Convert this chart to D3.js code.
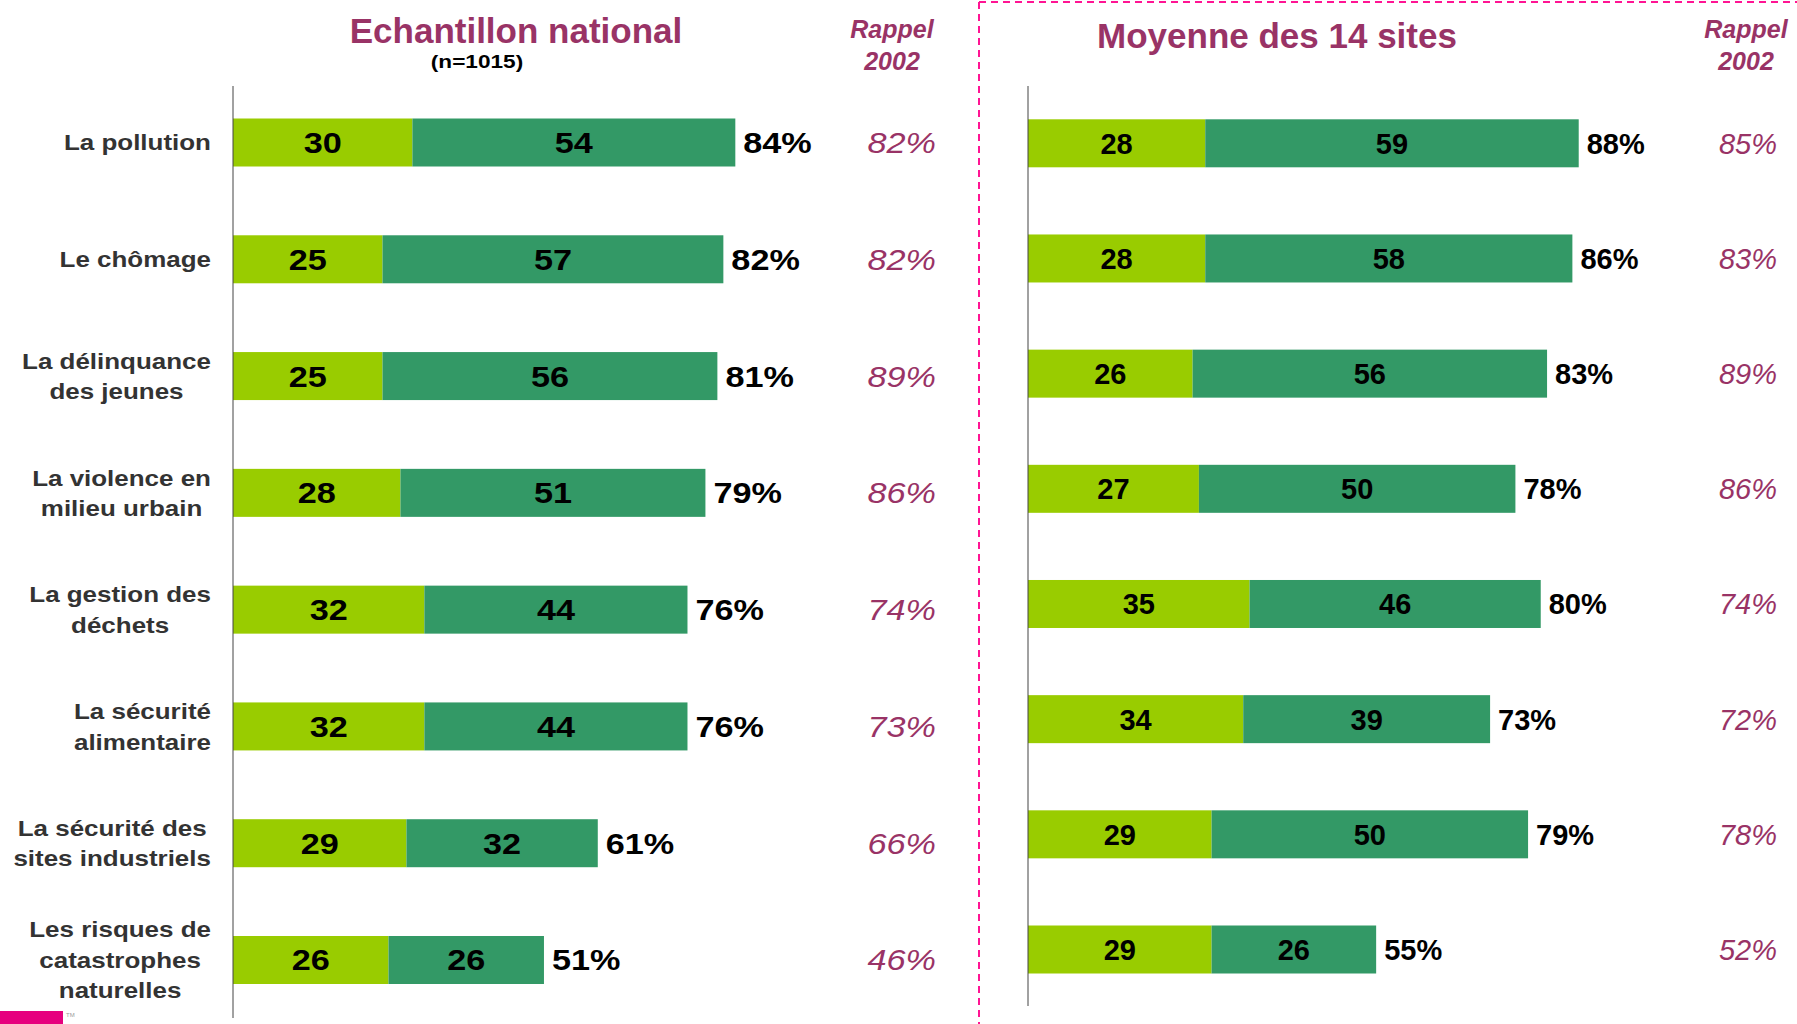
<!DOCTYPE html>
<html>
<head>
<meta charset="utf-8">
<script src="https://cdn.jsdelivr.net/npm/d3@7"></script>
<style>
  body { margin: 0; background: #fff; }
  text { font-family: "Liberation Sans", Arial, sans-serif; }
</style>
</head>
<body>
<div id="chart"></div>
<script>
var width = 1797,
    height = 1024

// data
var categories = ["La pollution", "Le chômage", "La délinquance\ndes jeunes",
  "La violence en\nmilieu urbain", "La gestion des\ndéchets", "La sécurité\nalimentaire",
  "La sécurité des\nsites industriels", "Les risques de\ncatastrophes\nnaturelles"]

var nationalLight = [30, 25, 25, 28, 32, 32, 29, 26]
var nationalDark = [54, 57, 56, 51, 44, 44, 32, 26]
var nationalTotal = [84, 82, 81, 79, 76, 76, 61, 51]
var nationalRappel = [82, 82, 89, 86, 74, 73, 66, 46]

var sitesLight = [28, 28, 26, 27, 35, 34, 29, 29]
var sitesDark = [59, 58, 56, 50, 46, 39, 50, 26]
var sitesTotal = [88, 86, 83, 78, 80, 73, 79, 55]
var sitesRappel = [85, 83, 89, 86, 74, 72, 78, 52]

var lightGreen = "#99cc00",
    darkGreen = "#339966",
    plum = "#993366"

var svg = d3.select("#chart").append("svg")
    .attr("width", width)
    .attr("height", height)

var barHeight = 48

// panel settings: left panel text is stretched horizontally like the slide
var panels = [
  {
    light: nationalLight, dark: nationalDark, total: nationalTotal, rappel: nationalRappel,
    x: d3.scaleLinear().domain([0, 100]).range([233, 831]),
    y: d3.scalePoint().domain(categories).range([142.5, 960]),
    axisBottom: 1018, rappelRight: 936, rappelCenter: 892, sx: 1.18,
    title: "Echantillon national", titleX: 516, titleY: 43
  },
  {
    light: sitesLight, dark: sitesDark, total: sitesTotal, rappel: sitesRappel,
    x: d3.scaleLinear().domain([0, 100]).range([1028, 1661]),
    y: d3.scalePoint().domain(categories).range([143.3, 949.5]),
    axisBottom: 1006, rappelRight: 1777, rappelCenter: 1746, sx: 1.0,
    title: "Moyenne des 14 sites", titleX: 1277, titleY: 47.5
  }
]

function place(x, y, sx) {
  return "translate(" + x + "," + y + ") scale(" + sx + ",1)"
}

panels.forEach(function(p) {
  var g = svg.append("g")

  g.selectAll(".light")
    .data(categories)
    .enter().append("rect")
    .attr("x", p.x(0))
    .attr("y", function(d) { return p.y(d) - barHeight / 2 })
    .attr("width", function(d, i) { return p.x(p.light[i]) - p.x(0) })
    .attr("height", barHeight)
    .attr("fill", lightGreen)

  g.selectAll(".dark")
    .data(categories)
    .enter().append("rect")
    .attr("x", function(d, i) { return p.x(p.light[i]) })
    .attr("y", function(d) { return p.y(d) - barHeight / 2 })
    .attr("width", function(d, i) { return p.x(p.light[i] + p.dark[i]) - p.x(p.light[i]) })
    .attr("height", barHeight)
    .attr("fill", darkGreen)

  // vertical axis line
  g.append("line")
    .attr("x1", p.x(0)).attr("x2", p.x(0))
    .attr("y1", 86).attr("y2", p.axisBottom)
    .attr("stroke", "#444").attr("stroke-width", 1)

  // segment values
  g.selectAll(".lightLabel")
    .data(categories)
    .enter().append("text")
    .attr("transform", function(d, i) {
      return place((p.x(0) + p.x(p.light[i])) / 2, p.y(d), p.sx)
    })
    .attr("dy", "0.36em")
    .attr("text-anchor", "middle")
    .attr("font-size", 29).attr("font-weight", "bold")
    .text(function(d, i) { return p.light[i] })

  g.selectAll(".darkLabel")
    .data(categories)
    .enter().append("text")
    .attr("transform", function(d, i) {
      return place((p.x(p.light[i]) + p.x(p.light[i] + p.dark[i])) / 2, p.y(d), p.sx)
    })
    .attr("dy", "0.36em")
    .attr("text-anchor", "middle")
    .attr("font-size", 29).attr("font-weight", "bold")
    .text(function(d, i) { return p.dark[i] })

  g.selectAll(".totalLabel")
    .data(categories)
    .enter().append("text")
    .attr("transform", function(d, i) {
      return place(p.x(p.light[i] + p.dark[i]) + 8, p.y(d), p.sx)
    })
    .attr("dy", "0.36em")
    .attr("font-size", 29).attr("font-weight", "bold")
    .text(function(d, i) { return p.total[i] + "%" })

  g.selectAll(".rappelLabel")
    .data(categories)
    .enter().append("text")
    .attr("transform", function(d) { return place(p.rappelRight, p.y(d), p.sx) })
    .attr("dy", "0.36em")
    .attr("text-anchor", "end")
    .attr("font-size", 29).attr("font-style", "italic")
    .attr("fill", plum)
    .text(function(d, i) { return p.rappel[i] + "%" })

  // headers
  g.append("text")
    .attr("x", p.titleX).attr("y", p.titleY)
    .attr("text-anchor", "middle")
    .attr("font-size", 35).attr("font-weight", "bold")
    .attr("fill", plum)
    .text(p.title)

  g.append("text")
    .attr("x", p.rappelCenter).attr("y", 38)
    .attr("text-anchor", "middle")
    .attr("font-size", 25).attr("font-weight", "bold").attr("font-style", "italic")
    .attr("fill", plum)
    .text("Rappel")

  g.append("text")
    .attr("x", p.rappelCenter).attr("y", 70)
    .attr("text-anchor", "middle")
    .attr("font-size", 25).attr("font-weight", "bold").attr("font-style", "italic")
    .attr("fill", plum)
    .text("2002")
})

// sample size under left title
svg.append("text")
  .attr("transform", place(477, 68, 1.19))
  .attr("text-anchor", "middle")
  .attr("font-size", 19).attr("font-weight", "bold")
  .text("(n=1015)")

// category labels, centered as a block whose right edge is fixed
var left = panels[0]
var labelRight = 211
categories.forEach(function(c) {
  var lines = c.split("\n")
  var lineHeight = 30.5
  var g = svg.append("g")
  var texts = g.selectAll("text")
    .data(lines)
    .enter().append("text")
    .attr("y", function(d, i) { return (i - (lines.length - 1) / 2) * lineHeight })
    .attr("dy", "0.36em")
    .attr("text-anchor", "middle")
    .attr("font-size", 22).attr("font-weight", "bold")
    .attr("fill", "#333")
    .text(function(d) { return d })
  var maxW = d3.max(texts.nodes(), function(n) { return n.getComputedTextLength() }) * left.sx
  g.attr("transform", place(labelRight - maxW / 2, left.y(c), left.sx))
})

// dashed frame around right panel
svg.append("line")
  .attr("x1", 979).attr("x2", 979)
  .attr("y1", 2).attr("y2", height)
  .attr("stroke", "#ff1493").attr("stroke-width", 2)
  .attr("stroke-dasharray", "7,5")

svg.append("line")
  .attr("x1", 979).attr("x2", width)
  .attr("y1", 2).attr("y2", 2)
  .attr("stroke", "#ff1493").attr("stroke-width", 2)
  .attr("stroke-dasharray", "7,5")

// logo stub bottom left
svg.append("rect")
  .attr("x", 0).attr("y", 1011)
  .attr("width", 63).attr("height", 13)
  .attr("fill", "#e6007e")

svg.append("text")
  .attr("x", 66).attr("y", 1017)
  .attr("font-size", 6)
  .attr("fill", "#999")
  .text("TM")
</script>
</body>
</html>
